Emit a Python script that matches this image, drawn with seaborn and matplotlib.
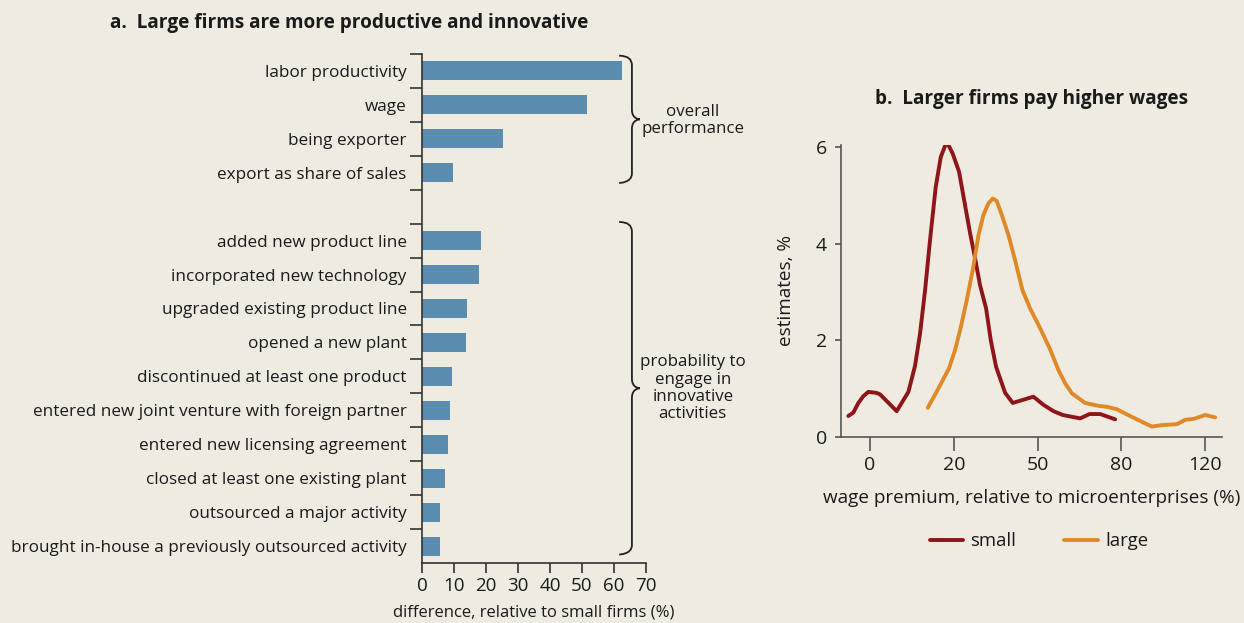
import numpy as np
import pandas as pd
import matplotlib
matplotlib.use("Agg")
import matplotlib.pyplot as plt
from matplotlib.path import Path
from matplotlib.patches import PathPatch
import seaborn as sns

# ---------------- data ----------------
perf_labels = ["labor productivity", "wage", "being exporter", "export as share of sales"]
perf_values = [62.4, 51.5, 25.3, 9.7]
innov_labels = ["added new product line", "incorporated new technology",
                "upgraded existing product line", "opened a new plant",
                "discontinued at least one product",
                "entered new joint venture with foreign partner",
                "entered new licensing agreement", "closed at least one existing plant",
                "outsourced a major activity",
                "brought in-house a previously outsourced activity"]
innov_values = [18.4, 17.8, 14.0, 13.7, 9.4, 8.7, 8.1, 7.2, 5.6, 5.6]
bar_xticks = [0, 10, 20, 30, 40, 50, 60, 70]

# panel b: x in positions along the (ordinal) wage-premium axis
wage_tick_labels = ["0", "20", "50", "80", "120"]
small_x = [-0.259, -0.199, -0.139, -0.080, -0.020, 0.072, 0.119, 0.318, 0.458, 0.537,
           0.597, 0.657, 0.716, 0.784, 0.844, 0.915, 0.987, 1.063, 1.134, 1.194,
           1.246, 1.313, 1.385, 1.441, 1.504, 1.612, 1.703, 1.950, 2.070, 2.189,
           2.300, 2.507, 2.619, 2.746, 2.925]
small_y = [0.43, 0.50, 0.70, 0.84, 0.93, 0.91, 0.88, 0.53, 0.93, 1.47,
           2.14, 3.04, 4.08, 5.18, 5.80, 6.12, 5.87, 5.49, 4.80, 4.22,
           3.77, 3.14, 2.66, 2.00, 1.45, 0.91, 0.70, 0.83, 0.66, 0.53,
           0.45, 0.38, 0.47, 0.47, 0.36]
large_x = [0.689, 0.816, 0.943, 1.015, 1.075, 1.154, 1.226, 1.294, 1.353, 1.413,
           1.465, 1.512, 1.580, 1.652, 1.731, 1.819, 1.910, 2.030, 2.149, 2.249,
           2.328, 2.408, 2.567, 2.726, 2.826, 2.945, 3.045, 3.184, 3.363, 3.483,
           3.662, 3.761, 3.861, 4.000, 4.119]
large_y = [0.60, 1.00, 1.42, 1.80, 2.21, 2.83, 3.46, 4.18, 4.60, 4.84,
           4.94, 4.89, 4.56, 4.18, 3.66, 3.04, 2.66, 2.25, 1.81, 1.38,
           1.11, 0.90, 0.70, 0.64, 0.62, 0.57, 0.48, 0.36, 0.21, 0.24,
           0.26, 0.35, 0.37, 0.45, 0.40]

# ---------------- style ----------------
BG = "#efebe1"
BAR = "#5a8db0"
RED = "#8e1519"
ORANGE = "#e08a27"
TXT = "#1a1a1a"

sns.set_theme(style="ticks")
plt.rcParams["font.family"] = ["Open Sans", "DejaVu Sans"]
plt.rcParams.update({"figure.facecolor": BG, "axes.facecolor": BG,
                     "savefig.facecolor": BG, "text.color": TXT,
                     "axes.labelcolor": TXT, "xtick.color": "#333333",
                     "ytick.color": "#333333", "xtick.labelcolor": TXT,
                     "ytick.labelcolor": TXT, "axes.edgecolor": "#333333"})

fig = plt.figure(figsize=(12.44, 6.23), dpi=100)

# ---------------- panel a ----------------
axa = fig.add_axes([422/1244, (623-563)/623, 224/1244, 509/623])
blank = " "
cats = perf_labels + [blank] + innov_labels
vals = perf_values + [0.0] + innov_values
dfa = pd.DataFrame({"cat": cats, "val": vals})
sns.barplot(data=dfa, x="val", y="cat", order=cats, color=BAR, width=0.56,
            saturation=1, linewidth=0, ax=axa)
axa.set_ylim(len(cats) - 0.5, -0.5)
axa.set_xlim(0, 70)
axa.set_xticks(bar_xticks)
axa.set_xticklabels([str(v) for v in bar_xticks], fontsize=13.5)
axa.set_yticks(range(len(cats)))
axa.set_yticklabels(cats, fontsize=12.3)
axa.set_yticks(np.arange(-0.5, len(cats) - 1), minor=True)
axa.tick_params(axis="y", which="major", length=0, pad=11)
axa.tick_params(axis="y", which="minor", length=9, width=1.2, color="#333333")
axa.tick_params(axis="x", length=7, width=1.2, pad=3)
axa.set_xlabel("difference, relative to small firms (%)", fontsize=12, labelpad=7)
axa.set_ylabel("")
sns.despine(ax=axa)
for s in ("left", "bottom"):
    axa.spines[s].set_linewidth(1.2)


def brace(ax, x0, y0, y1, w=4.0, tip=2.5, r=0.28):
    ym = (y0 + y1) / 2
    verts = [(x0 - w, y0), (x0, y0), (x0, y0 + r),
             (x0, ym - r),
             (x0, ym), (x0 + tip, ym), (x0 + tip, ym),
             (x0 + tip, ym), (x0, ym), (x0, ym + r),
             (x0, y1 - r),
             (x0, y1), (x0 - w, y1), (x0 - w, y1)]
    codes = [Path.MOVETO, Path.CURVE3, Path.CURVE3,
             Path.LINETO,
             Path.CURVE4, Path.CURVE4, Path.CURVE4,
             Path.CURVE4, Path.CURVE4, Path.CURVE4,
             Path.LINETO,
             Path.CURVE4, Path.CURVE4, Path.CURVE4]
    ax.add_patch(PathPatch(Path(verts, codes), fill=False, lw=1.3,
                           edgecolor="#222222", clip_on=False))


n1 = len(perf_labels)
brace(axa, 65.6, -0.45, n1 - 1 + 0.3)
brace(axa, 65.6, n1 + 1 - 0.55, len(cats) - 1 + 0.25)
axa.text(84.6, (n1 - 1) / 2 - 0.05, "overall\nperformance", ha="center", va="center",
         fontsize=12.2, linespacing=1.1, clip_on=False)
axa.text(84.6, (n1 + 1 + len(cats) - 1) / 2 - 0.15,
         "probability to\nengage in\ninnovative\nactivities", ha="center",
         va="center", fontsize=12.2, linespacing=1.1, clip_on=False)

fig.text(110/1244, 1 - 23/623, "a.  Large firms are more productive and innovative",
         fontsize=13.7, fontweight="bold", ha="left", va="center")

# ---------------- panel b ----------------
axb = fig.add_axes([840.7/1244, (623-436.7)/623, 381.3/1244, 291.7/623])
dfs = pd.DataFrame({"x": small_x, "y": small_y, "series": "small"})
dfl = pd.DataFrame({"x": large_x, "y": large_y, "series": "large"})
dfb = pd.concat([dfs, dfl], ignore_index=True)
sns.lineplot(data=dfb, x="x", y="y", hue="series", hue_order=["small", "large"],
             palette={"small": RED, "large": ORANGE}, lw=2.8, sort=False,
             estimator=None, ax=axb)
axb.set_xlim(-0.35, 4.2)
axb.set_ylim(0, 6.05)
axb.set_xticks(range(len(wage_tick_labels)))
axb.set_xticklabels(wage_tick_labels, fontsize=14)
axb.set_yticks([0, 2, 4, 6])
axb.set_yticklabels(["0", "2", "4", "6"], fontsize=14)
axb.tick_params(axis="x", length=10, width=1.2, color="#555555", pad=4)
axb.tick_params(axis="y", length=4, width=1.2, color="#555555", pad=6)
axb.set_xlabel("wage premium, relative to microenterprises (%)", fontsize=13.6, labelpad=11)
axb.set_ylabel("estimates, %", fontsize=13.6, labelpad=15)
sns.despine(ax=axb)
for s in ("left", "bottom"):
    axb.spines[s].set_linewidth(1.2)
    axb.spines[s].set_color("#555555")
leg = axb.legend(loc="upper center", bbox_to_anchor=(0.52, -0.27), ncol=2,
                 frameon=False, fontsize=13.3, handlelength=1.8, columnspacing=2.6,
                 handletextpad=0.4)
for h in leg.get_lines():
    h.set_linewidth(2.8)

fig.text(875/1244, 1 - 99/623, "b.  Larger firms pay higher wages",
         fontsize=13.7, fontweight="bold", ha="left", va="center")

fig.savefig("out.png", dpi=100, facecolor=BG)
